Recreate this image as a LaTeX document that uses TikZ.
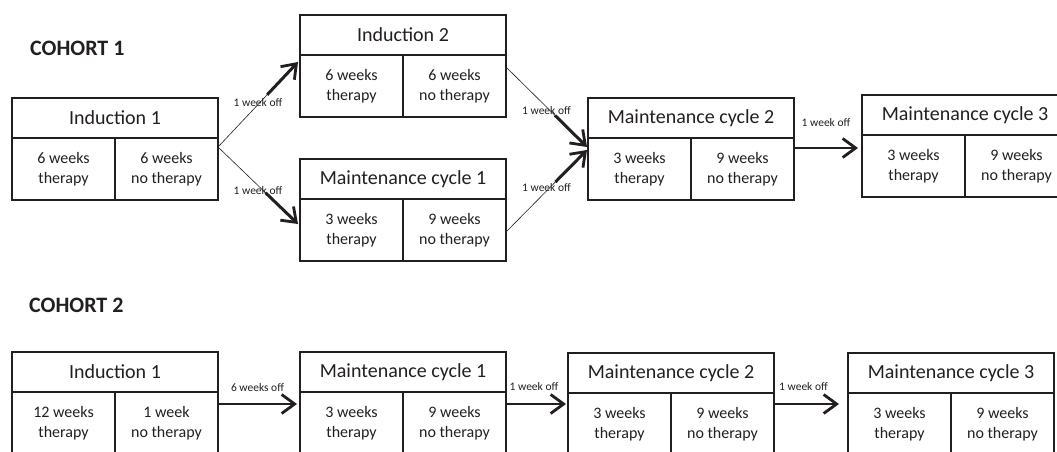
\documentclass[tikz,border=0pt]{standalone}
\usepackage{fontspec}
\setmainfont{Carlito}
\usetikzlibrary{calc,arrows.meta}
\definecolor{ink}{HTML}{231F20}
\tikzset{
  hdr/.style={draw=ink, line width=2pt, minimum width=206pt, minimum height=40pt, inner sep=0pt, outer sep=0pt,
    text=ink, font=\fontsize{20}{24}\selectfont},
  cell/.style={draw=ink, line width=2pt, minimum width=103pt, minimum height=62pt, inner sep=0pt, outer sep=0pt,
    align=center, text=ink, font=\fontsize{16}{20}\selectfont},
  cohort/.style={anchor=west, inner sep=0pt, text=ink, font=\fontsize{22}{26}\selectfont\bfseries},
  lbl/.style={inner sep=0pt, text=ink, font=\fontsize{11.5}{13}\selectfont},
  thinline/.style={draw=ink, line width=0.6pt},
  thickarrow/.style={draw=ink, line width=3pt, -{Straight Barb[length=13pt,width=19pt,line width=2.8pt]}},
  harrow/.style={draw=ink, line width=2.6pt, -{Straight Barb[length=13pt,width=19pt,line width=2.8pt]}}
}
\newcommand\phasebox[6]{%
  \node[hdr, anchor=north west] (#1) at (#2,#3) {#4};
  \node[cell, anchor=north west] (#1-l) at (#1.south west) {#5};
  \node[cell, anchor=north east] (#1-r) at (#1.south east) {#6};
}
\begin{document}
\begin{tikzpicture}[x=1pt,y=-1pt]
\useasboundingbox (0,0) rectangle (1057,452);
\clip (0,0) rectangle (1057,452);
\fill[white] (0,0) rectangle (1057,452);

% Cohort 1
\node[cohort] (t1) at (30,48) {COHORT 1};
\phasebox{c1i1}{12}{98}{Induction 1}{6 weeks\\therapy}{6 weeks\\no therapy}
\phasebox{c1i2}{300}{15}{Induction 2}{6 weeks\\therapy}{6 weeks\\no therapy}
\phasebox{c1m1}{300}{159}{Maintenance cycle 1}{3 weeks\\therapy}{9 weeks\\no therapy}
\phasebox{c1m2}{588}{98}{Maintenance cycle 2}{3 weeks\\therapy}{9 weeks\\no therapy}
\phasebox{c1m3}{862}{95}{Maintenance cycle 3}{3 weeks\\therapy}{9 weeks\\no therapy}

\coordinate (a1s) at ($(c1i1.south east)+(0,9)$);
\coordinate (a1e) at ($(c1i2.south west)+(-2,7)$);
\coordinate (a2e) at ($(c1m1.south west)+(-2,25)$);
\coordinate (a3s) at ($(c1i2.south east)+(0,12)$);
\coordinate (a3e) at ($(c1m2.south west)+(-1,9)$);
\coordinate (a4s) at ($(c1m1.south east)+(0,33)$);
\coordinate (a4e) at ($(c1m2.south west)+(-1,12)$);

\path[thinline] (a1s) -- node[lbl, yshift=2pt] {1 week off} (a1e);
\draw[thickarrow] ($(a1e)!45pt!(a1s)$) -- (a1e);
\path[thinline] (a1s) -- node[lbl, yshift=-5pt] {1 week off} (a2e);
\draw[thickarrow] ($(a2e)!45pt!(a1s)$) -- (a2e);
\path[thinline] (a3s) -- node[lbl, yshift=-3.5pt] {1 week off} (a3e);
\draw[thickarrow] ($(a3e)!45pt!(a3s)$) -- (a3e);
\path[thinline] (a4s) -- node[lbl, yshift=3.5pt] {1 week off} (a4e);
\draw[thickarrow] ($(a4e)!45pt!(a4s)$) -- (a4e);

\coordinate (a5s) at ($(c1m2.south east)+(0,10)$);
\coordinate (a5e) at ($(c1m3.west |- a5s)+(-4,0)$);
\draw[harrow] (a5s) -- node[lbl, yshift=25pt] {1 week off} (a5e);

% Cohort 2
\node[cohort] (t2) at (29,305) {COHORT 2};
\phasebox{c2i1}{12}{352}{Induction 1}{12 weeks\\therapy}{1 week\\no therapy}
\phasebox{c2m1}{300}{352}{Maintenance cycle 1}{3 weeks\\therapy}{9 weeks\\no therapy}
\phasebox{c2m2}{568}{353}{Maintenance cycle 2}{3 weeks\\therapy}{9 weeks\\no therapy}
\phasebox{c2m3}{848}{353}{Maintenance cycle 3}{3 weeks\\therapy}{9 weeks\\no therapy}

\coordinate (b1s) at (c2i1.east |- 0,404);
\coordinate (b1e) at ($(c2m1.west |- b1s)+(-3,0)$);
\coordinate (b2s) at (c2m1.east |- 0,404);
\coordinate (b2e) at ($(c2m2.west |- b2s)+(-2,0)$);
\coordinate (b3s) at (c2m2.east |- 0,404);
\coordinate (b3e) at ($(c2m3.west |- b3s)+(-9,0)$);
\draw[harrow] (b1s) -- node[lbl, yshift=16pt] {6 weeks off} (b1e);
\draw[harrow] (b2s) -- node[lbl, yshift=17pt, xshift=-2pt] {1 week off} (b2e);
\draw[harrow] (b3s) -- node[lbl, yshift=17pt, xshift=-3pt] {1 week off} (b3e);
\end{tikzpicture}
\end{document}
